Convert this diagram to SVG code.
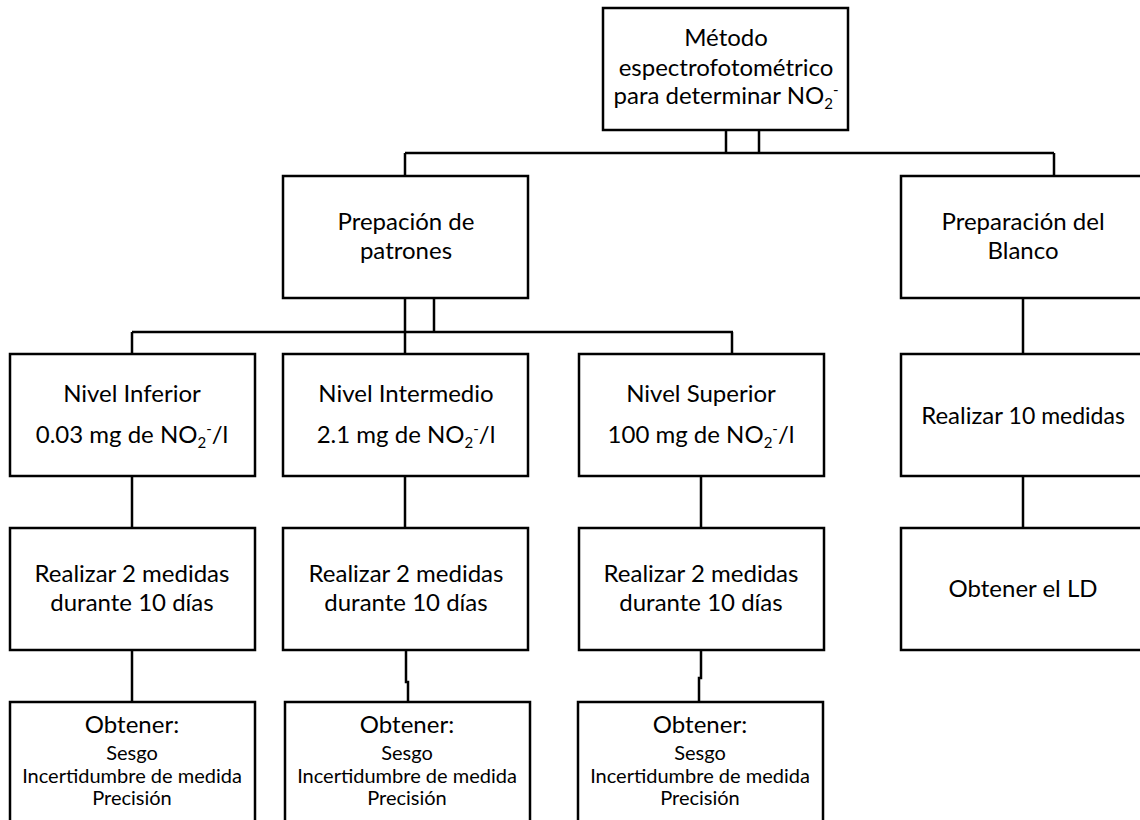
<svg xmlns="http://www.w3.org/2000/svg" width="1140" height="820" viewBox="0 0 1140 820">
<style>
.box{fill:#fff;stroke:#000;stroke-width:2.5}
.ln{fill:none;stroke:#000;stroke-width:2.5}
text{font-family:Lato,"Noto Sans","Liberation Sans",sans-serif;font-size:24px;fill:#000;text-anchor:middle}
.sm{font-size:20px}
</style>
<rect width="1140" height="820" fill="#fff"/>
<g id="connectors">
<path class="ln" d="M726 130V153M759 130V153M405 153H1054M405 153V176M1054 153V176"/>
<path class="ln" d="M405 298V354M434 298V332M132 332H733M132 332V354M732 332V354"/>
<path class="ln" d="M132 476V528M405 476V528M701 476V528M1023 298V354M1023 476V528"/>
<path class="ln" d="M132 650V702M406 650V682H408V702M701 650V678H699V702"/>
</g>
<g id="n_metodo">
<rect class="box" x="603" y="8" width="245" height="122"/>
<text x="726" y="46">Método</text>
<text x="726" y="76">espectrofotométrico</text>
<text x="726" y="104">para determinar NO<tspan font-size="15" dy="5">2</tspan><tspan font-size="15" dy="-14">-</tspan></text>
</g>
<g id="n_patrones">
<rect class="box" x="283" y="176" width="245" height="122"/>
<text x="406" y="230">Prepación de</text>
<text x="406" y="259">patrones</text>
</g>
<g id="n_blanco">
<rect class="box" x="901" y="176" width="245" height="122"/>
<text x="1023" y="230">Preparación del</text>
<text x="1023" y="259">Blanco</text>
</g>
<g id="n_inferior">
<rect class="box" x="10" y="354" width="245" height="122"/>
<text x="132" y="402">Nivel Inferior</text>
<text x="132" y="443">0.03 mg de NO<tspan font-size="15" dy="5">2</tspan><tspan font-size="15" dy="-14">-</tspan><tspan dy="9">/l</tspan></text>
</g>
<g id="n_intermedio">
<rect class="box" x="283" y="354" width="245" height="122"/>
<text x="406" y="402">Nivel Intermedio</text>
<text x="406" y="443">2.1 mg de NO<tspan font-size="15" dy="5">2</tspan><tspan font-size="15" dy="-14">-</tspan><tspan dy="9">/l</tspan></text>
</g>
<g id="n_superior">
<rect class="box" x="579" y="354" width="245" height="122"/>
<text x="701" y="402">Nivel Superior</text>
<text x="701" y="443">100 mg de NO<tspan font-size="15" dy="5">2</tspan><tspan font-size="15" dy="-14">-</tspan><tspan dy="9">/l</tspan></text>
</g>
<g id="n_realizar10">
<rect class="box" x="901" y="354" width="245" height="122"/>
<text x="1023" y="424" font-size="26">Realizar <tspan font-size="23">10 medidas</tspan></text>
</g>
<g id="n_real1">
<rect class="box" x="10" y="528" width="245" height="122"/>
<text x="132" y="582">Realizar 2 medidas</text>
<text x="132" y="611">durante 10 días</text>
</g>
<g id="n_real2">
<rect class="box" x="283" y="528" width="245" height="122"/>
<text x="406" y="582">Realizar 2 medidas</text>
<text x="406" y="611">durante 10 días</text>
</g>
<g id="n_real3">
<rect class="box" x="579" y="528" width="245" height="122"/>
<text x="701" y="582">Realizar 2 medidas</text>
<text x="701" y="611">durante 10 días</text>
</g>
<g id="n_ld">
<rect class="box" x="901" y="528" width="245" height="122"/>
<text x="1023" y="597">Obtener el LD</text>
</g>
<g id="n_obt1">
<rect class="box" x="10" y="702" width="245" height="124"/>
<text x="132" y="733">Obtener:</text>
<text class="sm" x="132" y="760">Sesgo</text>
<text class="sm" x="132" y="783">Incertidumbre de medida</text>
<text class="sm" x="132" y="805">Precisión</text>
</g>
<g id="n_obt2">
<rect class="box" x="285" y="702" width="245" height="124"/>
<text x="407" y="733">Obtener:</text>
<text class="sm" x="407" y="760">Sesgo</text>
<text class="sm" x="407" y="783">Incertidumbre de medida</text>
<text class="sm" x="407" y="805">Precisión</text>
</g>
<g id="n_obt3">
<rect class="box" x="578" y="702" width="245" height="124"/>
<text x="700" y="733">Obtener:</text>
<text class="sm" x="700" y="760">Sesgo</text>
<text class="sm" x="700" y="783">Incertidumbre de medida</text>
<text class="sm" x="700" y="805">Precisión</text>
</g>
</svg>
